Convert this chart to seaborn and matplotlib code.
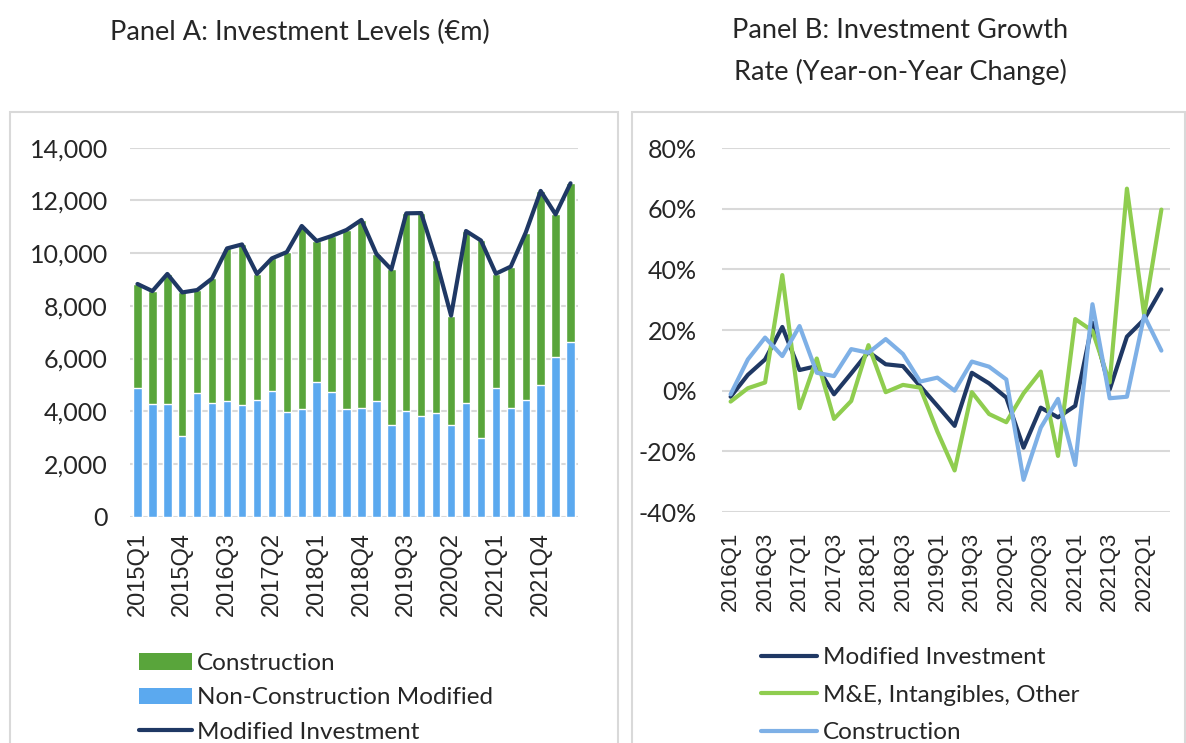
import numpy as np
import pandas as pd
import matplotlib
matplotlib.use('Agg')
import matplotlib.pyplot as plt
from matplotlib.patches import Rectangle, Patch
from matplotlib.lines import Line2D
import matplotlib.ticker as mticker
import seaborn as sns

# Panel A: investment levels, 2015Q1 - 2022Q2 (EUR m)
quarters_a = [f'{y}Q{q}' for y in range(2015, 2023) for q in range(1, 5)][:30]
non_construction = [4870, 4260, 4260, 3060, 4690, 4300, 4380, 4220, 4440, 4760,
                    3980, 4080, 5100, 4730, 4070, 4120, 4400, 3480, 4020, 3810,
                    3950, 3480, 4300, 2970, 4880, 4140, 4410, 4980, 6050, 6610]
construction = [3960, 4300, 4950, 5450, 3910, 4740, 5800, 6110, 4770, 5040,
                6060, 6950, 5360, 5920, 6810, 7140, 5570, 5900, 7490, 7710,
                5790, 4150, 6540, 7510, 4340, 5350, 6370, 7380, 5420, 6040]

# Panel B: year-on-year growth, 2016Q1 - 2022Q2 (%)
quarters_b = quarters_a[4:]
growth_modified = [-2.0, 5.2, 10.3, 21.0, 6.8, 8.1, -1.2, 5.7, 12.8, 8.7,
                   8.1, 1.5, -5.0, -11.6, 5.9, 2.4, -2.3, -18.8, -5.6, -8.8,
                   -5.0, 22.4, 0.4, 17.8, 23.5, 33.4]
growth_me = [-3.6, 0.8, 2.7, 38.1, -5.8, 10.6, -9.3, -3.4, 15.0, -0.5,
             1.9, 1.0, -13.5, -26.3, -0.5, -7.7, -10.4, -0.9, 6.3, -21.5,
             23.6, 19.7, 2.7, 66.6, 25.0, 59.7]
growth_construction = [-1.2, 10.3, 17.5, 11.4, 21.3, 5.9, 4.8, 13.7, 12.5, 17.0,
                       12.1, 3.0, 4.3, 0.0, 9.6, 7.9, 3.7, -29.4, -12.2, -2.7,
                       -24.5, 28.5, -2.5, -2.0, 24.7, 13.2]

GREEN = '#59a53b'
BLUE = '#5ba9ef'
NAVY = '#1f3864'
LGREEN = '#8fcd4f'
LBLUE = '#7eb0e6'
GRID = '#d9d9d9'

sns.set_style('white')
plt.rcParams['font.family'] = ['Lato', 'DejaVu Sans']

fig = plt.figure(figsize=(11.86, 7.43), dpi=100)

# chart area borders
for x0, x1 in [(10, 618), (632, 1185)]:
    fig.patches.append(Rectangle((x0 / 1186, -0.1), (x1 - x0) / 1186, 0.1 + 1 - 112 / 743,
                                 transform=fig.transFigure, fill=False,
                                 edgecolor=GRID, linewidth=1.5))

# ---- Panel A ----
axA = fig.add_axes([130 / 1186, 1 - 516.7 / 743, 448 / 1186, 369 / 743])
df_a = pd.DataFrame({'quarter': quarters_a,
                     'non_construction': non_construction,
                     'construction': construction})
df_a['total'] = df_a['non_construction'] + df_a['construction']
df_a['pos'] = np.arange(len(df_a))

sns.barplot(data=df_a, x='quarter', y='total', color=GREEN, width=0.56,
            saturation=1, ax=axA)
sns.barplot(data=df_a, x='quarter', y='non_construction', color=BLUE, width=0.56,
            saturation=1, ax=axA)
sns.lineplot(data=df_a, x='pos', y='total', color=NAVY, linewidth=3, ax=axA)

axA.set_xlim(-0.5, len(df_a) - 0.5)
axA.set_ylim(0, 14000)
axA.set_yticks(np.arange(0, 14001, 2000))
axA.yaxis.set_major_formatter(mticker.FuncFormatter(lambda v, p: f'{v:,.0f}'))
axA.set_xticks(np.arange(0, len(df_a), 3))
axA.set_xticklabels(quarters_a[::3], rotation=90, family='Liberation Sans', fontsize=17)
axA.tick_params(axis='y', labelsize=18, pad=16, length=0)
axA.tick_params(axis='x', pad=11, length=0)
axA.grid(axis='y', color=GRID, linewidth=1.5)
axA.set_axisbelow(True)
for s in axA.spines.values():
    s.set_visible(False)
axA.set_xlabel('')
axA.set_ylabel('')

fig.text(300 / 1186, 1 - 32 / 743, 'Panel A: Investment Levels (€m)', ha='center',
         va='center', fontsize=19.5)

handles_a = [Patch(facecolor=GREEN, edgecolor='none'),
             Patch(facecolor=BLUE, edgecolor='none'),
             Line2D([0], [0], color=NAVY, linewidth=3)]
axA.legend(handles_a, ['Construction', 'Non-Construction Modified', 'Modified Investment'],
           loc='upper left', bbox_to_anchor=(139 / 1186, 1 - 653 / 743),
           bbox_transform=fig.transFigure, frameon=False, fontsize=17.5,
           handlelength=2.2, handleheight=0.65, handletextpad=0.2,
           labelspacing=0.55, borderpad=0, borderaxespad=0)

# ---- Panel B ----
axB = fig.add_axes([722 / 1186, 1 - 512 / 743, 448 / 1186, 364 / 743])
df_b = pd.DataFrame({'pos': np.arange(len(quarters_b)),
                     'Modified Investment': growth_modified,
                     'M&E, Intangibles, Other': growth_me,
                     'Construction': growth_construction})
long_b = df_b.melt(id_vars='pos', var_name='series', value_name='growth')
sns.lineplot(data=long_b, x='pos', y='growth', hue='series',
             palette=[NAVY, LGREEN, LBLUE], linewidth=3, legend=False, ax=axB)

axB.set_xlim(-0.5, len(quarters_b) - 0.5)
axB.set_ylim(-40, 80)
axB.set_yticks(np.arange(-40, 81, 20))
axB.yaxis.set_major_formatter(mticker.FuncFormatter(lambda v, p: f'{v:.0f}%'))
axB.set_xticks(np.arange(0, len(quarters_b), 2))
axB.set_xticklabels(quarters_b[::2], rotation=90, family='Liberation Sans', fontsize=16)
axB.tick_params(axis='y', labelsize=18, pad=18, length=0)
axB.tick_params(axis='x', pad=14, length=0)
axB.grid(axis='y', color=GRID, linewidth=1.5)
axB.set_axisbelow(True)
for s in axB.spines.values():
    s.set_visible(False)
axB.set_xlabel('')
axB.set_ylabel('')

fig.text(900 / 1186, 1 - 30 / 743, 'Panel B: Investment Growth', ha='center',
         va='center', fontsize=19.5)
fig.text(900 / 1186, 1 - 72 / 743, 'Rate (Year-on-Year Change)', ha='center',
         va='center', fontsize=19.5)

handles_b = [Line2D([0], [0], color=c, linewidth=3) for c in [NAVY, LGREEN, LBLUE]]
axB.legend(handles_b, ['Modified Investment', 'M&E, Intangibles, Other', 'Construction'],
           loc='upper left', bbox_to_anchor=(761 / 1186, 1 - 647 / 743),
           bbox_transform=fig.transFigure, frameon=False, fontsize=17.5,
           handlelength=2.3, handletextpad=0.25,
           labelspacing=0.68, borderpad=0, borderaxespad=0)

fig.savefig('out.png', dpi=100)
plt.close(fig)
